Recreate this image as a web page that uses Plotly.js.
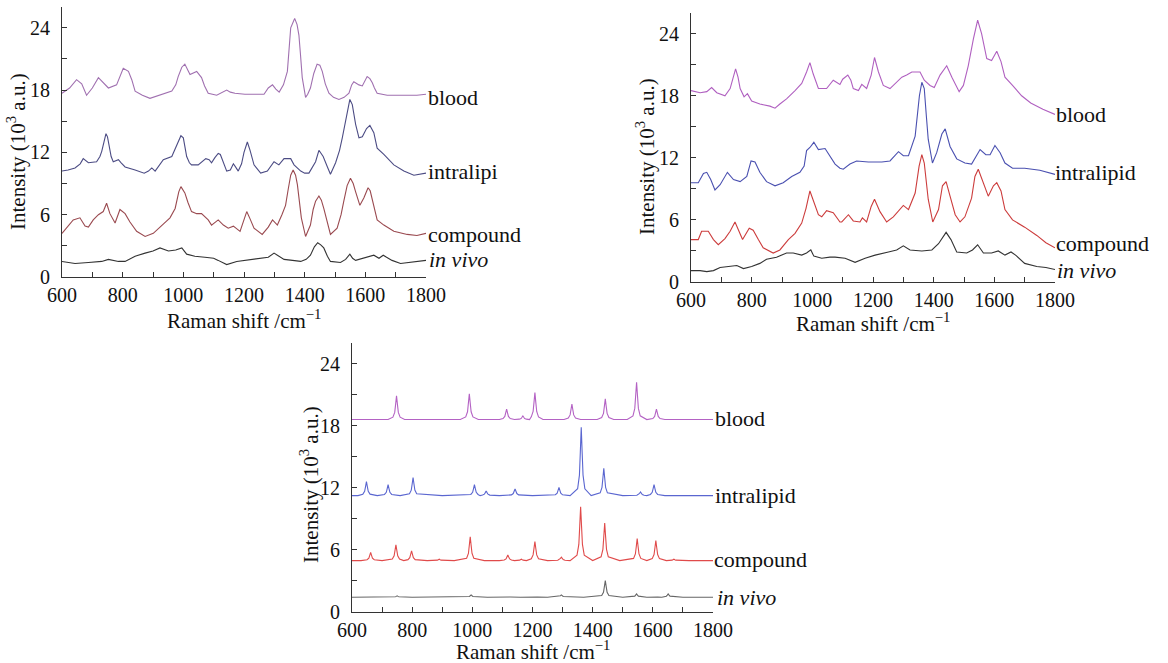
<!DOCTYPE html>
<html>
<head>
<meta charset="utf-8">
<script src="https://cdn.plot.ly/plotly-3.0.1.min.js"></script>
<style>html,body{margin:0;padding:0;background:#fff}#chart{width:1168px;height:663px}</style>
</head>
<body>
<div id="chart"></div>
<script>
// ---------- Data: panel 1 (top left) ----------
const p1BloodX = [600,625,648,665,681,700,720,738,753,780,790,802,819,830,841,865,890,929,962,975,983,995,1005,1015,1022,1044,1060,1070,1082,1110,1130,1143,1155,1170,1203,1240,1266,1280,1294,1305,1316,1330,1343,1354,1367,1375,1381,1386,1392,1403,1410,1419,1430,1441,1450,1458,1468,1480,1495,1513,1530,1546,1555,1562,1579,1590,1600,1606,1615,1623,1630,1639,1672,1700,1738,1770,1800];
const p1BloodY = [17.7,18.2,19.0,18.6,17.5,18.2,19.2,18.6,18.2,18.5,19.3,20.1,19.8,19.0,17.9,17.5,17.2,17.6,17.9,18.5,19.3,20.2,20.5,19.9,19.5,19.8,19.2,18.4,17.7,17.5,17.8,18.0,17.8,17.7,17.6,17.6,17.6,18.2,18.5,18.1,17.8,18.5,19.8,24.0,24.9,24.3,23.3,21.5,19.2,17.3,17.6,18.2,19.6,20.5,20.4,19.8,18.6,17.7,17.3,17.1,17.3,17.7,18.5,18.8,18.5,18.4,19.0,19.3,19.1,18.7,18.2,17.7,17.5,17.5,17.5,17.5,17.6];
const p1LipidX = [600,620,643,660,670,678,687,714,725,731,739,745,750,756,762,769,778,786,795,808,841,871,885,896,907,920,934,962,978,985,992,1000,1006,1011,1020,1027,1049,1062,1074,1085,1093,1104,1115,1122,1130,1143,1155,1165,1172,1181,1192,1200,1211,1220,1233,1255,1277,1299,1315,1332,1354,1365,1387,1400,1414,1436,1447,1461,1475,1485,1502,1515,1524,1533,1540,1549,1557,1562,1568,1579,1590,1604,1615,1628,1639,1661,1694,1727,1760,1800];
const p1LipidY = [10.2,10.3,10.5,10.9,11.4,11.2,11.0,11.1,11.6,12.1,13.0,13.8,13.5,12.4,11.6,11.1,11.2,11.3,11.0,10.6,10.3,10.0,10.2,10.5,10.2,10.7,11.3,11.6,12.6,13.2,13.6,13.4,12.6,11.6,11.0,10.8,10.8,11.1,11.4,11.3,11.0,11.5,11.9,11.8,11.2,10.2,10.3,10.9,10.6,10.2,10.9,12.0,13.0,12.2,10.8,10.0,10.2,11.1,10.8,11.4,11.4,10.8,10.2,10.0,10.0,11.1,12.2,11.6,10.6,9.9,11.0,12.2,13.4,14.8,15.9,17.1,16.6,15.6,14.7,13.4,13.5,14.3,14.6,13.9,12.4,11.8,10.8,10.2,9.8,10.0];
const p1CompX = [600,621,637,659,676,687,703,720,736,747,758,775,791,808,824,846,874,901,929,956,973,985,992,1005,1015,1027,1044,1060,1082,1093,1115,1132,1148,1165,1187,1198,1209,1220,1233,1260,1280,1294,1310,1325,1337,1346,1354,1362,1370,1376,1382,1389,1403,1419,1428,1436,1447,1455,1463,1474,1485,1507,1520,1529,1540,1551,1560,1568,1582,1595,1609,1616,1623,1639,1661,1694,1738,1770,1800];
const p1CompY = [4.2,5.0,5.5,5.7,4.9,4.8,5.5,6.0,6.3,7.1,6.1,5.2,6.5,6.1,5.3,4.4,3.9,4.2,5.0,5.7,6.6,8.2,8.7,8.1,7.2,6.3,6.1,6.1,5.5,5.0,5.5,5.0,4.7,4.9,4.4,5.3,6.3,5.6,4.7,4.1,4.8,5.5,5.0,6.0,6.9,8.5,9.8,10.3,9.8,8.9,7.2,5.7,3.9,5.0,6.5,7.3,7.8,7.4,6.6,5.3,4.1,4.7,6.0,7.3,8.8,9.5,9.0,8.2,6.9,7.6,8.6,8.3,7.4,5.5,5.0,4.4,4.1,4.0,4.2];
const p1VivoX = [600,643,687,731,753,786,808,841,874,900,923,951,975,995,1011,1038,1071,1100,1115,1143,1176,1203,1244,1280,1299,1315,1332,1360,1387,1405,1419,1432,1443,1453,1463,1475,1485,1518,1535,1549,1558,1568,1595,1610,1628,1645,1659,1670,1688,1716,1740,1760,1800];
const p1VivoY = [1.5,1.3,1.4,1.5,1.7,1.5,1.5,2.0,2.3,2.5,2.8,2.5,2.6,2.8,2.2,2.0,1.9,1.8,1.6,1.2,1.5,1.6,1.8,1.9,2.3,2.0,1.7,1.6,1.5,1.7,2.1,2.9,3.3,3.1,2.8,2.0,1.5,1.4,1.7,2.2,1.8,1.6,1.8,1.9,2.1,1.8,2.1,1.9,1.6,1.3,1.4,1.5,1.6];

// ---------- Data: panel 2 (top right) ----------
const p2BloodX = [600,630,652,668,685,712,729,738,747,755,762,775,786,800,827,860,877,893,915,943,965,981,992,1003,1012,1020,1047,1069,1091,1100,1117,1127,1135,1152,1163,1179,1194,1205,1218,1234,1256,1273,1295,1311,1328,1355,1369,1388,1402,1421,1443,1460,1484,1498,1514,1531,1545,1558,1575,1591,1608,1622,1635,1660,1690,1720,1760,1800];
const p2BloodY = [18.5,18.3,18.4,18.8,18.3,18.0,18.7,19.6,20.6,19.8,18.7,17.9,18.2,17.5,17.2,17.0,16.8,17.2,17.7,18.5,19.2,20.3,21.2,20.1,19.3,18.7,18.7,19.5,19.1,19.6,20.0,19.5,18.7,18.5,19.1,18.7,20.0,21.7,20.3,19.0,18.7,19.2,19.8,20.0,20.3,20.3,19.5,19.0,18.8,20.0,20.9,19.8,18.4,19.0,20.9,23.5,25.3,24.0,21.6,21.4,22.3,21.3,19.8,19.0,18.0,17.3,16.7,16.2];
const p2LipidX = [600,624,641,652,665,679,696,720,740,762,784,798,811,827,849,877,904,932,959,973,981,992,1005,1020,1042,1058,1075,1091,1102,1124,1146,1185,1229,1256,1284,1300,1317,1339,1353,1361,1369,1376,1382,1396,1410,1427,1438,1454,1476,1503,1525,1553,1572,1586,1602,1619,1635,1660,1700,1750,1800];
const p2LipidY = [9.6,9.6,10.5,10.6,9.9,8.9,9.4,10.6,9.9,9.7,10.2,11.7,11.6,10.6,9.7,9.3,9.6,10.2,10.6,11.2,12.7,13.0,13.5,12.8,12.9,12.2,11.4,11.0,10.9,11.4,11.7,11.6,11.6,11.7,12.6,12.2,12.2,14.1,18.0,19.3,18.7,16.0,13.8,11.5,12.5,14.3,14.8,13.1,11.9,11.5,11.4,12.8,12.3,12.3,13.2,12.5,11.5,11.0,11.0,10.8,10.4];
const p2CompX = [600,624,635,657,674,690,712,729,745,760,770,792,805,822,838,871,893,921,943,965,979,992,1005,1020,1031,1047,1069,1091,1097,1119,1135,1157,1165,1179,1194,1205,1223,1245,1267,1289,1300,1317,1339,1352,1361,1369,1382,1397,1416,1429,1441,1454,1471,1487,1503,1525,1536,1547,1564,1580,1597,1608,1622,1635,1660,1700,1740,1770,1800];
const p2CompY = [4.1,4.1,4.9,4.9,4.1,3.6,4.2,4.9,5.8,4.7,4.1,5.2,5.0,4.1,3.3,2.8,3.1,4.1,4.7,5.7,7.1,8.8,7.8,6.5,6.3,6.9,6.7,5.8,5.8,6.5,5.9,5.8,6.2,5.8,7.3,8.0,6.8,5.8,6.3,7.1,7.4,7.0,8.6,11.2,12.3,11.5,8.0,5.8,7.0,9.3,9.7,8.3,6.5,5.8,6.3,8.1,10.2,10.9,9.6,8.3,9.3,9.6,8.8,7.0,6.0,5.3,4.5,3.8,3.3];
const p2VivoX = [600,630,652,674,696,723,751,773,800,827,849,882,915,937,965,981,995,1005,1031,1058,1075,1108,1141,1174,1207,1251,1278,1300,1322,1361,1394,1416,1441,1457,1476,1509,1528,1545,1564,1591,1613,1635,1655,1670,1700,1740,1770,1800];
const p2VivoY = [1.1,1.1,1.0,1.1,1.4,1.5,1.6,1.3,1.5,1.8,2.2,2.4,2.8,2.8,2.6,2.8,3.1,2.5,2.3,2.4,2.4,2.3,1.9,2.3,2.6,2.9,3.1,3.5,3.1,3.0,3.1,3.7,4.8,4.1,2.9,2.8,3.1,3.6,2.8,2.8,3.0,2.6,2.9,2.6,1.8,1.5,1.4,1.2];

// ---------- Data: panel 3 (bottom) ----------
const p3BloodX = [600,720,736,742,745,748,751,754,760,775,960,978,984,987,990,993,996,1002,1020,1090,1102,1108,1111,1114,1117,1120,1126,1140,1156,1162,1165,1168,1171,1174,1180,1190,1196,1202,1205,1208,1211,1214,1220,1235,1305,1319,1325,1328,1331,1334,1337,1343,1360,1415,1430,1436,1439,1442,1445,1448,1454,1470,1515,1534,1540,1543,1546,1549,1552,1558,1580,1600,1606,1609,1612,1615,1618,1624,1640,1800];
const p3BloodY = [18.6,18.6,18.83,19.29,20.07,20.9,20.07,19.29,18.83,18.6,18.6,18.85,19.35,20.2,21.1,20.2,19.35,18.85,18.6,18.6,18.7,18.9,19.24,19.6,19.24,18.9,18.7,18.6,18.64,18.7,18.82,18.95,18.82,18.7,18.64,18.6,18.86,19.38,20.26,21.2,20.26,19.38,18.86,18.6,18.6,18.75,19.05,19.56,20.1,19.56,19.05,18.75,18.6,18.6,18.8,19.2,19.88,20.6,19.88,19.2,18.8,18.6,18.6,18.96,19.68,20.9,22.2,20.9,19.68,18.96,18.6,18.7,18.9,19.24,19.6,19.24,18.9,18.7,18.6,18.6];
const p3LipidX = [600,620,636,642,645,648,651,654,660,684,708,714,717,720,723,726,732,760,791,797,800,803,806,809,815,900,995,1001,1004,1007,1010,1013,1019,1026,1034,1040,1043,1046,1049,1052,1058,1090,1130,1136,1139,1142,1145,1148,1154,1200,1276,1282,1285,1288,1291,1294,1300,1325,1350,1356,1359,1362,1365,1368,1374,1395,1425,1431,1434,1437,1440,1443,1449,1500,1547,1553,1556,1559,1562,1565,1571,1580,1592,1598,1601,1604,1607,1610,1616,1640,1800];
const p3LipidY = [11.25,11.25,11.39,11.66,12.11,12.6,12.11,11.66,11.39,11.25,11.36,11.57,11.92,12.3,11.92,11.57,11.36,11.25,11.43,11.78,12.37,13.0,12.37,11.78,11.43,11.25,11.36,11.57,11.92,12.3,11.92,11.57,11.36,11.25,11.3,11.39,11.54,11.7,11.54,11.39,11.3,11.25,11.32,11.45,11.67,11.9,11.67,11.45,11.32,11.25,11.33,11.49,11.76,12.05,11.76,11.49,11.33,11.25,11.91,13.23,15.47,17.85,15.47,13.23,11.91,11.25,11.52,12.05,12.95,13.9,12.95,12.05,11.52,11.25,11.29,11.36,11.47,11.6,11.47,11.36,11.29,11.25,11.36,11.57,11.92,12.3,11.92,11.57,11.36,11.25,11.25];
const p3CompX = [600,630,650,656,659,662,665,668,674,700,734,740,743,746,749,752,758,772,786,792,795,798,801,804,810,850,884,887,890,893,896,940,981,987,990,993,996,999,1005,1040,1090,1106,1112,1115,1118,1121,1124,1130,1140,1157,1160,1163,1166,1169,1180,1196,1202,1205,1208,1211,1214,1220,1250,1284,1290,1293,1296,1299,1302,1308,1325,1348,1354,1357,1360,1363,1366,1372,1400,1428,1434,1437,1440,1443,1446,1452,1490,1536,1542,1545,1548,1551,1554,1560,1580,1598,1604,1607,1610,1613,1616,1622,1645,1664,1667,1670,1673,1676,1720,1800];
const p3CompY = [4.97,4.97,5.05,5.21,5.48,5.77,5.48,5.21,5.05,4.97,5.12,5.43,5.95,6.5,5.95,5.43,5.12,4.97,5.06,5.25,5.57,5.9,5.57,5.25,5.06,4.97,5.01,5.05,5.1,5.05,5.01,4.97,5.2,5.66,6.44,7.26,6.44,5.66,5.2,4.97,4.97,5.02,5.13,5.31,5.5,5.31,5.13,5.02,4.97,5.01,5.05,5.1,5.05,5.01,4.97,5.15,5.52,6.14,6.8,6.14,5.52,5.15,4.97,5.0,5.07,5.18,5.3,5.18,5.07,5.0,4.97,5.49,6.53,8.3,10.17,8.3,6.53,5.49,4.97,5.33,6.06,7.29,8.6,7.29,6.06,5.33,4.97,5.18,5.61,6.33,7.1,6.33,5.61,5.18,4.97,5.16,5.55,6.21,6.9,6.21,5.55,5.16,4.97,5.01,5.05,5.1,5.05,5.01,4.97,4.97];
const p3VivoX = [600,700,744,747,750,753,756,800,900,990,993,996,999,1002,1050,1114,1117,1120,1123,1126,1160,1204,1207,1210,1213,1216,1250,1290,1293,1296,1299,1302,1370,1430,1436,1439,1442,1445,1448,1454,1500,1540,1543,1546,1549,1552,1580,1604,1607,1610,1613,1616,1630,1645,1648,1651,1654,1657,1700,1800];
const p3VivoY = [1.43,1.43,1.47,1.51,1.56,1.51,1.47,1.43,1.43,1.5,1.57,1.65,1.57,1.5,1.43,1.45,1.47,1.5,1.47,1.45,1.43,1.45,1.47,1.5,1.47,1.45,1.43,1.5,1.57,1.65,1.57,1.5,1.43,1.59,1.91,2.46,3.04,2.46,1.91,1.59,1.43,1.53,1.63,1.75,1.63,1.53,1.43,1.45,1.47,1.5,1.47,1.45,1.43,1.53,1.63,1.75,1.63,1.53,1.43,1.43];

// ---------- Text ----------
const seriesLabels = ['blood', 'intralipid', 'compound', '<i>in vivo</i>'];
const panel1Labels = ['blood', 'intralipi', 'compound', '<i>in vivo</i>'];
const xTitle = 'Raman shift /cm<sup>−1</sup>';
const yTitle = 'Intensity (10<sup>3</sup> a.u.)';

// ---------- Styling ----------
const W = 1168, H = 663;
const FONT = 'Liberation Serif';
const AX = '#333333';
const colors1 = ['#a070b0', '#4c4c84', '#9a4a50', '#333333'];
const colors2 = ['#b060c0', '#4a50b0', '#cc3c3c', '#333333'];
const colors3 = ['#b462c4', '#5a66d0', '#e04a4a', '#666666'];

function line(x, y, ax, color) {
  return {x: x, y: y, xaxis: 'x' + ax, yaxis: 'y' + ax, type: 'scatter', mode: 'lines',
    line: {color: color, width: 1.1}, hoverinfo: 'skip', showlegend: false};
}
const traces = [
  line(p1BloodX, p1BloodY, '', colors1[0]), line(p1LipidX, p1LipidY, '', colors1[1]),
  line(p1CompX, p1CompY, '', colors1[2]), line(p1VivoX, p1VivoY, '', colors1[3]),
  line(p2BloodX, p2BloodY, '2', colors2[0]), line(p2LipidX, p2LipidY, '2', colors2[1]),
  line(p2CompX, p2CompY, '2', colors2[2]), line(p2VivoX, p2VivoY, '2', colors2[3]),
  line(p3BloodX, p3BloodY, '3', colors3[0]), line(p3LipidX, p3LipidY, '3', colors3[1]),
  line(p3CompX, p3CompY, '3', colors3[2]), line(p3VivoX, p3VivoY, '3', colors3[3])
];

function xax(l, r, anchor) {
  return {domain: [l / W, r / W], anchor: anchor, range: [600, 1800], tick0: 600, dtick: 200,
    ticks: 'inside', ticklen: 5, tickwidth: 1, tickcolor: AX, showline: true, linecolor: AX, linewidth: 1,
    showgrid: false, zeroline: false, ticklabelstandoff: 0,
    tickfont: {family: FONT, size: 20, color: '#111'},
    minor: {dtick: 100, tick0: 600, ticks: 'inside', ticklen: 5, tickwidth: 1, tickcolor: AX, showgrid: false}};
}
function yax(top, bottom, anchor) {
  return {domain: [1 - bottom / H, 1 - top / H], anchor: anchor, range: [0, 26], tick0: 0, dtick: 6,
    ticks: 'inside', ticklen: 5, tickwidth: 1, tickcolor: AX, showline: true, linecolor: AX, linewidth: 1,
    showgrid: false, zeroline: false, ticklabelstandoff: 7,
    tickfont: {family: FONT, size: 20, color: '#111'},
    minor: {dtick: 3, tick0: 0, ticks: 'inside', ticklen: 5, tickwidth: 1, tickcolor: AX, showgrid: false}};
}

function ann(text, px, py, opts) {
  return Object.assign({text: text, xref: 'paper', yref: 'paper', x: px / W, y: 1 - py / H,
    xanchor: 'left', yanchor: 'middle', showarrow: false,
    font: {family: FONT, size: 22, color: '#111'}}, opts || {});
}
const titleFont = {family: FONT, size: 21, color: '#111'};
const annotations = [
  // panel 1
  ann(panel1Labels[0], 426, 97), ann(panel1Labels[1], 426, 172), ann(panel1Labels[2], 426, 234), ann(panel1Labels[3], 427, 260),
  ann(xTitle, 244, 319, {xanchor: 'center', font: titleFont}), ann(yTitle, 17, 152, {xanchor: 'center', textangle: -90, font: titleFont}),
  // panel 2
  ann(seriesLabels[0], 1054, 114), ann(seriesLabels[1], 1053, 173), ann(seriesLabels[2], 1054, 243), ann(seriesLabels[3], 1055, 270),
  ann(xTitle, 873, 322, {xanchor: 'center', font: titleFont}), ann(yTitle, 645, 157, {xanchor: 'center', textangle: -90, font: titleFont}),
  // panel 3
  ann(seriesLabels[0], 713, 418), ann(seriesLabels[1], 713, 495), ann(seriesLabels[2], 712, 559), ann(seriesLabels[3], 715, 597),
  ann(xTitle, 533, 650, {xanchor: 'center', font: titleFont}), ann(yTitle, 310, 485, {xanchor: 'center', textangle: -90, font: titleFont})
];

const layout = {
  width: W, height: H, margin: {l: 0, r: 0, t: 0, b: 0},
  paper_bgcolor: '#ffffff', plot_bgcolor: 'rgba(0,0,0,0)', showlegend: false,
  font: {family: FONT, color: '#111'},
  xaxis: xax(62, 426, 'y'), yaxis: yax(7, 277, 'x'),
  xaxis2: xax(691, 1055, 'y2'), yaxis2: yax(13, 282, 'x2'),
  xaxis3: xax(352, 713, 'y3'), yaxis3: yax(343, 612, 'x3'),
  annotations: annotations
};

Plotly.newPlot('chart', traces, layout, {staticPlot: true, displayModeBar: false});
</script>
</body>
</html>
